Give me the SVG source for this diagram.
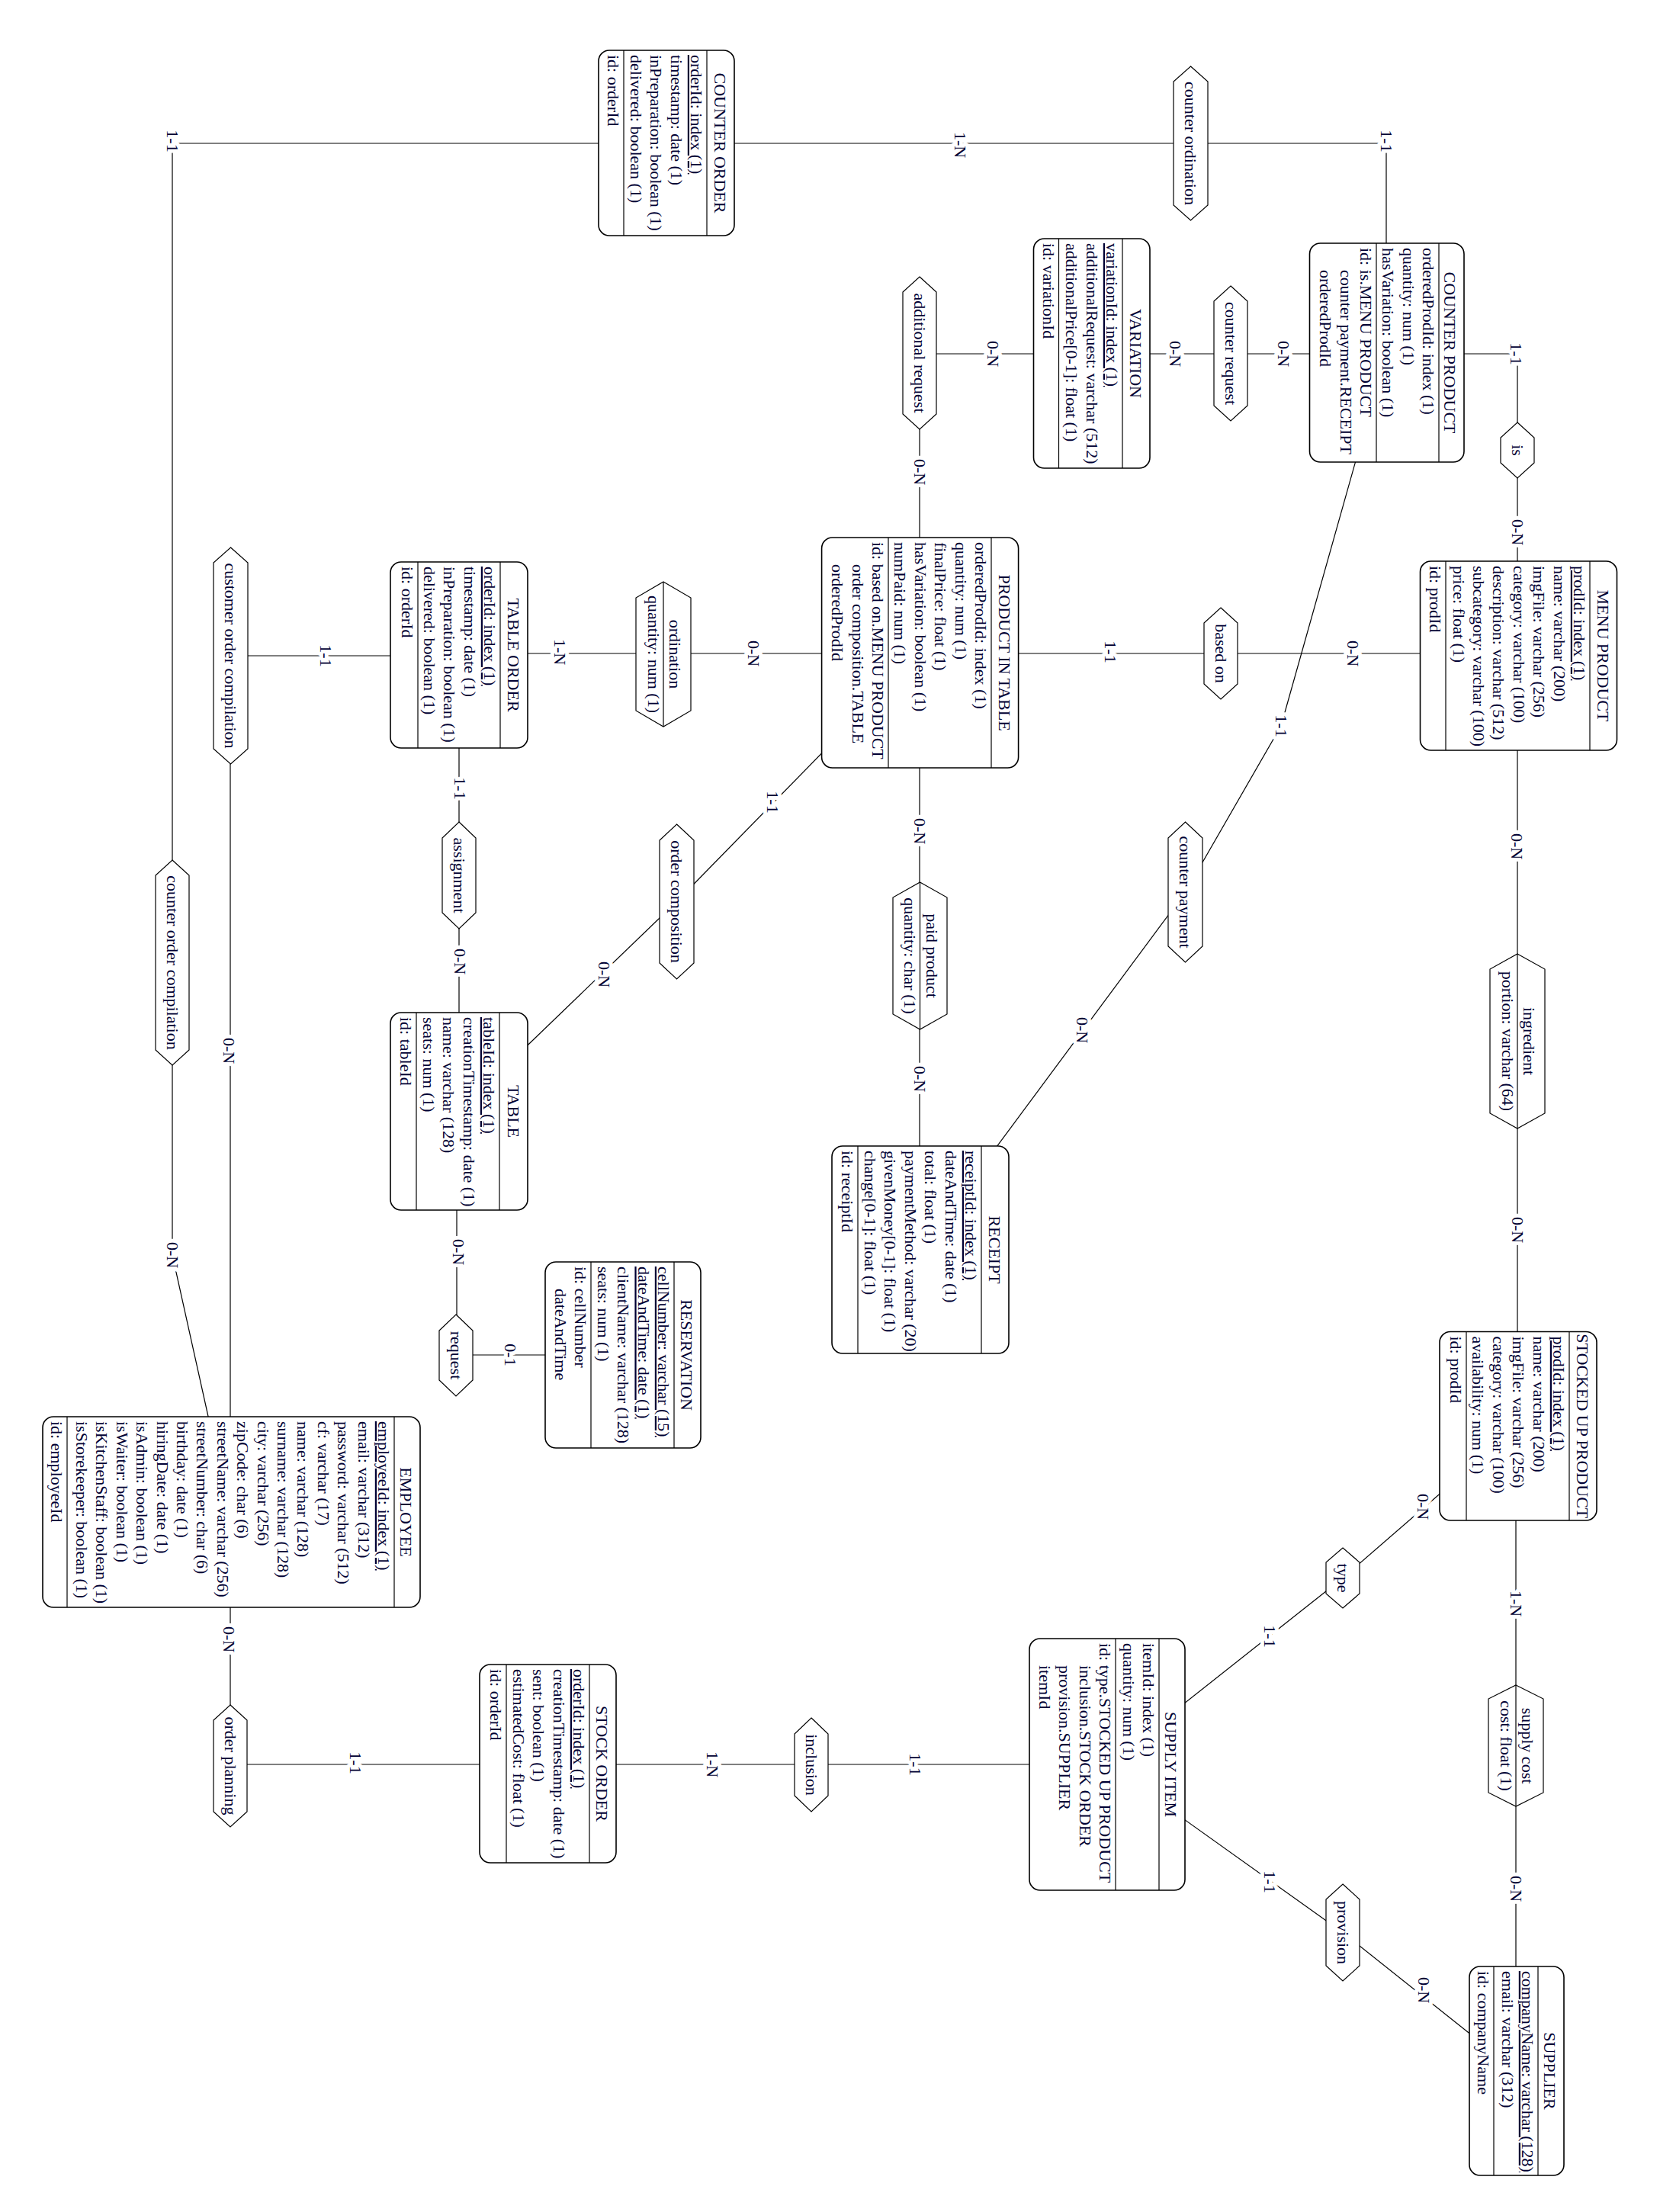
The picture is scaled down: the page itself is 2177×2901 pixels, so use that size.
<svg xmlns="http://www.w3.org/2000/svg" width="2177" height="2901" viewBox="0 0 2177 2901">
<style>
.b{fill:#fff;stroke:#000;stroke-width:1.6}
.s{stroke:#000;stroke-width:1.2}
.h{fill:#fff;stroke:#000;stroke-width:1.2}
.c{fill:none;stroke:#000;stroke-width:1.2}
text{font-family:"Liberation Serif","Times New Roman",serif;font-size:22px;fill:#000033}
.t{text-anchor:middle}
.u{text-decoration:underline}
.l{text-anchor:middle;stroke:#fff;stroke-width:10;paint-order:stroke;stroke-linejoin:round}
</style>
<rect x="0" y="0" width="2177" height="2901" fill="#fff"/>
<g transform="translate(2177 0) rotate(90)">
<g id="connectors">
<path class="c" d="M188,1303 L188,615"/>
<path class="c" d="M188,615 L188,359 L462,359"/>
<path class="c" d="M188,1303 L188,1951 L1262,1951"/>
<path class="c" d="M1262,1951 L1646,1951 L1880,1899"/>
<path class="c" d="M464,359 L464,563"/>
<path class="c" d="M464,563 L464,745"/>
<path class="c" d="M464,745 L464,971"/>
<path class="c" d="M463,971 L856,971"/>
<path class="c" d="M464,359 L464,187 L590,187"/>
<path class="c" d="M590,187 L860,187"/>
<path class="c" d="M857,187 L857,576"/>
<path class="c" d="M857,576 L857,971"/>
<path class="c" d="M590,395 L952,497 L1170,622.5"/>
<path class="c" d="M1170,622.5 L1639,970"/>
<path class="c" d="M857,971 L857,1307"/>
<path class="c" d="M857,1307 L857,1575"/>
<path class="c" d="M860,1575 L860,1875"/>
<path class="c" d="M860,1875 L1983,1875"/>
<path class="c" d="M859,1575 L1148,1575"/>
<path class="c" d="M1148,1575 L1457,1575"/>
<path class="c" d="M1457.5,1575 L1182.5,1289.7"/>
<path class="c" d="M1182.5,1289.7 L856,970.4"/>
<path class="c" d="M856,971 L1253,971"/>
<path class="c" d="M1253,971 L1639,971"/>
<path class="c" d="M1457,1578 L1777,1578"/>
<path class="c" d="M1777,1579 L1777,1360"/>
<path class="c" d="M860,187 L1365,187"/>
<path class="c" d="M1365,187 L1870,187"/>
<path class="c" d="M1870,186 L2069.5,416"/>
<path class="c" d="M1870,189 L2289,189"/>
<path class="c" d="M2289,189 L2716,189"/>
<path class="c" d="M2069.5,416 L2314,725"/>
<path class="c" d="M2534.5,416 L2314,725"/>
<path class="c" d="M2534.5,416 L2716,188"/>
<path class="c" d="M2314,725 L2314,1112"/>
<path class="c" d="M2314,1112 L2314,1458"/>
<path class="c" d="M2314,1458 L2314,1875"/>
<path class="c" d="M1983,1875 L2316,1875"/>
</g>
<g id="connector-labels">
<text class="l" x="190" y="925.5">1-N</text>
<text class="l" x="185" y="366.5">1-1</text>
<text class="l" x="185" y="1958.5">1-1</text>
<text class="l" x="1646" y="1958.5">0-N</text>
<text class="l" x="464" y="501.5">0-N</text>
<text class="l" x="464" y="643.5">0-N</text>
<text class="l" x="464" y="882.5">0-N</text>
<text class="l" x="619" y="978.5">0-N</text>
<text class="l" x="464" y="196.5">1-1</text>
<text class="l" x="698" y="194.5">0-N</text>
<text class="l" x="857" y="410.5">0-N</text>
<text class="l" x="855" y="728.5">1-1</text>
<text class="l" x="952" y="504.5">1-1</text>
<text class="l" x="857" y="1196.5">0-N</text>
<text class="l" x="855" y="1450.5">1-N</text>
<text class="l" x="860" y="1757.5">1-1</text>
<text class="l" x="1034" y="1581.5">1-1</text>
<text class="l" x="1261" y="1581.5">0-N</text>
<text class="l" x="1278" y="1392.5">0-N</text>
<text class="l" x="1052" y="1171.5">1-1</text>
<text class="l" x="1090" y="978.5">0-N</text>
<text class="l" x="1415" y="978.5">0-N</text>
<text class="l" x="1351" y="765.5">0-N</text>
<text class="l" x="1642" y="1583.5">0-N</text>
<text class="l" x="1777" y="1515.5">0-1</text>
<text class="l" x="1110" y="195.5">0-N</text>
<text class="l" x="1613" y="194.5">0-N</text>
<text class="l" x="1976" y="318.5">0-N</text>
<text class="l" x="2103" y="196.5">1-N</text>
<text class="l" x="2477" y="196.5">0-N</text>
<text class="l" x="2610" y="317.5">0-N</text>
<text class="l" x="2146" y="519.5">1-1</text>
<text class="l" x="2468" y="519.5">1-1</text>
<text class="l" x="2314" y="984.5">1-1</text>
<text class="l" x="2314" y="1250.5">1-N</text>
<text class="l" x="2312" y="1718.5">1-1</text>
<text class="l" x="2150" y="1884.5">0-N</text>
<text class="l" x="1378" y="1884.5">0-N</text>
</g>

<g id="counter-order">
<rect class="b" x="66" y="1214" width="243" height="178" rx="14"/>
<line class="s" x1="66" y1="1250" x2="309" y2="1250"/>
<line class="s" x1="66" y1="1359" x2="309" y2="1359"/>
<text class="t" x="187.5" y="1240">COUNTER ORDER</text>
<text class="u" x="72" y="1271">orderId: index (1)</text>
<text x="72" y="1297.4">timestamp: date (1)</text>
<text x="72" y="1323.8">inPreparation: boolean (1)</text>
<text x="72" y="1350.2">delivered: boolean (1)</text>
<text x="72" y="1380">id: orderId</text>
</g>

<g id="counter-product">
<rect class="b" x="319" y="257" width="287" height="202.5" rx="14"/>
<line class="s" x1="319" y1="290" x2="606" y2="290"/>
<line class="s" x1="319" y1="372" x2="606" y2="372"/>
<text class="t" x="462.5" y="283">COUNTER PRODUCT</text>
<text x="325" y="311">orderedProdId: index (1)</text>
<text x="325" y="337.4">quantity: num (1)</text>
<text x="325" y="363.8">hasVariation: boolean (1)</text>
<text x="325" y="393">id: is.MENU PRODUCT</text>
<text x="354" y="419.4">counter payment.RECEIPT</text>
<text x="354" y="445.8">orderedProdId</text>
</g>

<g id="variation">
<rect class="b" x="313" y="669" width="301" height="152.5" rx="14"/>
<line class="s" x1="313" y1="705" x2="614" y2="705"/>
<line class="s" x1="313" y1="788.5" x2="614" y2="788.5"/>
<text class="t" x="463.5" y="695">VARIATION</text>
<text class="u" x="319" y="726">variationId: index (1)</text>
<text x="319" y="752.4">additionalRequest: varchar (512)</text>
<text x="319" y="778.8">additionalPrice[0-1]: float (1)</text>
<text x="319" y="809.5">id: variationId</text>
</g>

<g id="menu-product">
<rect class="b" x="736" y="56.5" width="248" height="258" rx="14"/>
<line class="s" x1="736" y1="92" x2="984" y2="92"/>
<line class="s" x1="736" y1="281" x2="984" y2="281"/>
<text class="t" x="860" y="82.5">MENU PRODUCT</text>
<text class="u" x="742" y="113">prodId: index (1)</text>
<text x="742" y="139.4">name: varchar (200)</text>
<text x="742" y="165.8">imgFile: varchar (256)</text>
<text x="742" y="192.2">category: varchar (100)</text>
<text x="742" y="218.6">description: varchar (512)</text>
<text x="742" y="245">subcategory: varchar (100)</text>
<text x="742" y="271.4">price: float (1)</text>
<text x="742" y="302">id: prodId</text>
</g>

<g id="product-in-table">
<rect class="b" x="705" y="841.4" width="302" height="258" rx="14"/>
<line class="s" x1="705" y1="877" x2="1007" y2="877"/>
<line class="s" x1="705" y1="1012" x2="1007" y2="1012"/>
<text class="t" x="856" y="867.4">PRODUCT IN TABLE</text>
<text x="711" y="898">orderedProdId: index (1)</text>
<text x="711" y="924.4">quantity: num (1)</text>
<text x="711" y="950.8">finalPrice: float (1)</text>
<text x="711" y="977.2">hasVariation: boolean (1)</text>
<text x="711" y="1003.6">numPaid: num (1)</text>
<text x="711" y="1033">id: based on.MENU PRODUCT</text>
<text x="740" y="1059.4">order composition.TABLE</text>
<text x="740" y="1085.8">orderedProdId</text>
</g>

<g id="table-order">
<rect class="b" x="737" y="1485" width="244" height="180" rx="14"/>
<line class="s" x1="737" y1="1521" x2="981" y2="1521"/>
<line class="s" x1="737" y1="1629" x2="981" y2="1629"/>
<text class="t" x="859" y="1511">TABLE ORDER</text>
<text class="u" x="743" y="1542">orderId: index (1)</text>
<text x="743" y="1568.4">timestamp: date (1)</text>
<text x="743" y="1594.8">inPreparation: boolean (1)</text>
<text x="743" y="1621.2">delivered: boolean (1)</text>
<text x="743" y="1650">id: orderId</text>
</g>

<g id="table">
<rect class="b" x="1328" y="1485" width="259" height="180" rx="14"/>
<line class="s" x1="1328" y1="1522" x2="1587" y2="1522"/>
<line class="s" x1="1328" y1="1631" x2="1587" y2="1631"/>
<text class="t" x="1457.5" y="1511">TABLE</text>
<text class="u" x="1334" y="1543">tableId: index (1)</text>
<text x="1334" y="1569.4">creationTimestamp: date (1)</text>
<text x="1334" y="1595.8">name: varchar (128)</text>
<text x="1334" y="1622.2">seats: num (1)</text>
<text x="1334" y="1652">id: tableId</text>
</g>

<g id="receipt">
<rect class="b" x="1503" y="854" width="272" height="232" rx="14"/>
<line class="s" x1="1503" y1="890" x2="1775" y2="890"/>
<line class="s" x1="1503" y1="1052" x2="1775" y2="1052"/>
<text class="t" x="1639" y="880">RECEIPT</text>
<text class="u" x="1509" y="911">receiptId: index (1)</text>
<text x="1509" y="937.4">dateAndTime: date (1)</text>
<text x="1509" y="963.8">total: float (1)</text>
<text x="1509" y="990.2">paymentMethod: varchar (20)</text>
<text x="1509" y="1016.6">givenMoney[0-1]: float (1)</text>
<text x="1509" y="1043">change[0-1]: float (1)</text>
<text x="1509" y="1073">id: receiptId</text>
</g>

<g id="reservation">
<rect class="b" x="1655" y="1258" width="244" height="204" rx="14"/>
<line class="s" x1="1655" y1="1293" x2="1899" y2="1293"/>
<line class="s" x1="1655" y1="1402" x2="1899" y2="1402"/>
<text class="t" x="1777" y="1284">RESERVATION</text>
<text class="u" x="1661" y="1314">cellNumber: varchar (15)</text>
<text class="u" x="1661" y="1340.4">dateAndTime: date (1)</text>
<text x="1661" y="1366.8">clientName: varchar (128)</text>
<text x="1661" y="1393.2">seats: num (1)</text>
<text x="1661" y="1423">id: cellNumber</text>
<text x="1690" y="1449.4">dateAndTime</text>
</g>

<g id="stocked-up-product">
<rect class="b" x="1746.5" y="83" width="247.5" height="206" rx="14"/>
<line class="s" x1="1746.5" y1="119" x2="1994" y2="119"/>
<line class="s" x1="1746.5" y1="254" x2="1994" y2="254"/>
<text class="t" x="1870.25" y="109">STOCKED UP PRODUCT</text>
<text class="u" x="1752.5" y="140">prodId: index (1)</text>
<text x="1752.5" y="166.4">name: varchar (200)</text>
<text x="1752.5" y="192.8">imgFile: varchar (256)</text>
<text x="1752.5" y="219.2">category: varchar (100)</text>
<text x="1752.5" y="245.6">availability: num (1)</text>
<text x="1752.5" y="275">id: prodId</text>
</g>

<g id="employee">
<rect class="b" x="1858" y="1626" width="250" height="495" rx="14"/>
<line class="s" x1="1858" y1="1660" x2="2108" y2="1660"/>
<line class="s" x1="1858" y1="2089" x2="2108" y2="2089"/>
<text class="t" x="1983" y="1652">EMPLOYEE</text>
<text class="u" x="1864" y="1681">employeeId: index (1)</text>
<text x="1864" y="1707.4">email: varchar (312)</text>
<text x="1864" y="1733.8">password: varchar (512)</text>
<text x="1864" y="1760.2">cf: varchar (17)</text>
<text x="1864" y="1786.6">name: varchar (128)</text>
<text x="1864" y="1813">surname: varchar (128)</text>
<text x="1864" y="1839.4">city: varchar (256)</text>
<text x="1864" y="1865.8">zipCode: char (6)</text>
<text x="1864" y="1892.2">streetName: varchar (256)</text>
<text x="1864" y="1918.6">streetNumber: char (6)</text>
<text x="1864" y="1945">birthday: date (1)</text>
<text x="1864" y="1971.4">hiringDate: date (1)</text>
<text x="1864" y="1997.8">isAdmin: boolean (1)</text>
<text x="1864" y="2024.2">isWaiter: boolean (1)</text>
<text x="1864" y="2050.6">isKitchenStaff: boolean (1)</text>
<text x="1864" y="2077">isStorekeeper: boolean (1)</text>
<text x="1864" y="2110">id: employeeId</text>
</g>

<g id="supply-item">
<rect class="b" x="2149" y="623" width="330" height="204" rx="14"/>
<line class="s" x1="2149" y1="657" x2="2479" y2="657"/>
<line class="s" x1="2149" y1="714" x2="2479" y2="714"/>
<text class="t" x="2314" y="649">SUPPLY ITEM</text>
<text x="2155" y="678">itemId: index (1)</text>
<text x="2155" y="704.4">quantity: num (1)</text>
<text x="2155" y="735">id: type.STOCKED UP PRODUCT</text>
<text x="2184" y="761.4">inclusion.STOCK ORDER</text>
<text x="2184" y="787.8">provision.SUPPLIER</text>
<text x="2184" y="814.2">itemId</text>
</g>

<g id="stock-order">
<rect class="b" x="2183" y="1369" width="260" height="179" rx="14"/>
<line class="s" x1="2183" y1="1404" x2="2443" y2="1404"/>
<line class="s" x1="2183" y1="1513" x2="2443" y2="1513"/>
<text class="t" x="2313" y="1395">STOCK ORDER</text>
<text class="u" x="2189" y="1425">orderId: index (1)</text>
<text x="2189" y="1451.4">creationTimestamp: date (1)</text>
<text x="2189" y="1477.8">sent: boolean (1)</text>
<text x="2189" y="1504.2">estimatedCost: float (1)</text>
<text x="2189" y="1534">id: orderId</text>
</g>

<g id="supplier">
<rect class="b" x="2579" y="126" width="274" height="124" rx="14"/>
<line class="s" x1="2579" y1="160" x2="2853" y2="160"/>
<line class="s" x1="2579" y1="218" x2="2853" y2="218"/>
<text class="t" x="2716" y="152">SUPPLIER</text>
<text class="u" x="2585" y="181">companyName: varchar (128)</text>
<text x="2585" y="207.4">email: varchar (312)</text>
<text x="2585" y="239">id: companyName</text>
</g>

<g id="rel-counter-ordination">
<polygon class="h" points="87,615.5 107,593 269,593 289,615.5 269,638 107,638"/>
<text class="t" x="188" y="623">counter ordination</text>
</g>
<g id="rel-counter-request">
<polygon class="h" points="375,563 395,541 532,541 552,563 532,585 395,585"/>
<text class="t" x="463.5" y="570.5">counter request</text>
</g>
<g id="rel-additional-request">
<polygon class="h" points="363,971 383,949 543,949 563,971 543,993 383,993"/>
<text class="t" x="463" y="978.5">additional request</text>
</g>
<g id="rel-is">
<polygon class="h" points="554,187 574,165 607,165 627,187 607,209 574,209"/>
<text class="t" x="590.5" y="194.5">is</text>
</g>
<g id="rel-based-on">
<polygon class="h" points="797,576 817,554 897,554 917,576 897,598 817,598"/>
<text class="t" x="857" y="583.5">based on</text>
</g>
<g id="rel-ordination">
<polygon class="h" points="763,1307 784,1271 932,1271 953,1307 932,1343 784,1343"/>
<line class="s" x1="763" y1="1307" x2="953" y2="1307"/>
<text class="t" x="858" y="1299">ordination</text>
<text class="t" x="858" y="1327">quantity: num (1)</text>
</g>
<g id="rel-customer-order-compilation">
<polygon class="h" points="718,1874.5 738,1852 982,1852 1002,1874.5 982,1897 738,1897"/>
<text class="t" x="860" y="1882">customer order compilation</text>
</g>
<g id="rel-assignment">
<polygon class="h" points="1078,1575 1099,1553 1197,1553 1218,1575 1197,1597 1099,1597"/>
<text class="t" x="1148" y="1582.5">assignment</text>
</g>
<g id="rel-order-composition">
<polygon class="h" points="1081,1289.5 1102,1267 1263,1267 1284,1289.5 1263,1312 1102,1312"/>
<text class="t" x="1182.5" y="1297">order composition</text>
</g>
<g id="rel-paid-product">
<polygon class="h" points="1157,970.5 1177,935 1330,935 1350,970.5 1330,1006 1177,1006"/>
<line class="s" x1="1157" y1="970.5" x2="1350" y2="970.5"/>
<text class="t" x="1253.5" y="962.5">paid product</text>
<text class="t" x="1253.5" y="991">quantity: char (1)</text>
</g>
<g id="rel-counter-payment">
<polygon class="h" points="1078,622.5 1099,600 1241,600 1262,622.5 1241,645 1099,645"/>
<text class="t" x="1170" y="630">counter payment</text>
</g>
<g id="rel-request">
<polygon class="h" points="1724,1579 1745,1557 1810,1557 1831,1579 1810,1601 1745,1601"/>
<text class="t" x="1777.5" y="1586.5">request</text>
</g>
<g id="rel-counter-order-compilation">
<polygon class="h" points="1128,1951 1148,1929 1377,1929 1397,1951 1377,1973 1148,1973"/>
<text class="t" x="1262.5" y="1958.5">counter order compilation</text>
</g>
<g id="rel-ingredient">
<polygon class="h" points="1251,187 1271,151 1460,151 1480,187 1460,223 1271,223"/>
<line class="s" x1="1251" y1="187" x2="1480" y2="187"/>
<text class="t" x="1365.5" y="179">ingredient</text>
<text class="t" x="1365.5" y="207">portion: varchar (64)</text>
</g>
<g id="rel-type">
<polygon class="h" points="2030,416 2049,394 2090,394 2109,416 2090,438 2049,438"/>
<text class="t" x="2069.5" y="423.5">type</text>
</g>
<g id="rel-supply-cost">
<polygon class="h" points="2210,189 2228,153 2351,153 2369,189 2351,225 2228,225"/>
<line class="s" x1="2210" y1="189" x2="2369" y2="189"/>
<text class="t" x="2289.5" y="181">supply cost</text>
<text class="t" x="2289.5" y="209">cost: float (1)</text>
</g>
<g id="rel-provision">
<polygon class="h" points="2471,416 2491,394 2578,394 2598,416 2578,438 2491,438"/>
<text class="t" x="2534.5" y="423.5">provision</text>
</g>
<g id="rel-inclusion">
<polygon class="h" points="2253,1113 2274,1091 2355,1091 2376,1113 2355,1135 2274,1135"/>
<text class="t" x="2314.5" y="1120.5">inclusion</text>
</g>
<g id="rel-order-planning">
<polygon class="h" points="2236,1875 2256,1853 2376,1853 2396,1875 2376,1897 2256,1897"/>
<text class="t" x="2316" y="1882.5">order planning</text>
</g>
</g>
</svg>
